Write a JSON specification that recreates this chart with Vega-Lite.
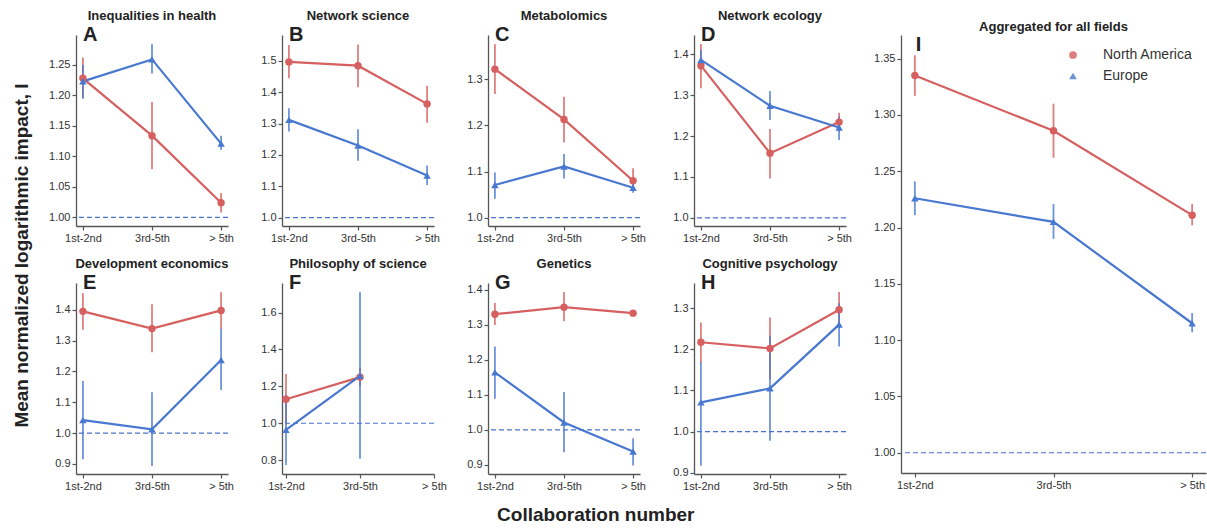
{
"$schema":"https://vega.github.io/schema/vega-lite/v6.json",
"padding":{"left":12,"top":10,"right":0,"bottom":0},
"datasets":{"d":[
{"panel":"A","region":"North America","collab":"1st-2nd","mean":1.228,"lo":1.195,"hi":1.262},
{"panel":"A","region":"North America","collab":"3rd-5th","mean":1.134,"lo":1.079,"hi":1.189},
{"panel":"A","region":"North America","collab":"> 5th","mean":1.024,"lo":1.008,"hi":1.040},
{"panel":"A","region":"Europe","collab":"1st-2nd","mean":1.223,"lo":1.195,"hi":1.250},
{"panel":"A","region":"Europe","collab":"3rd-5th","mean":1.259,"lo":1.236,"hi":1.284},
{"panel":"A","region":"Europe","collab":"> 5th","mean":1.121,"lo":1.111,"hi":1.134},
{"panel":"B","region":"North America","collab":"1st-2nd","mean":1.497,"lo":1.445,"hi":1.551},
{"panel":"B","region":"North America","collab":"3rd-5th","mean":1.485,"lo":1.416,"hi":1.553},
{"panel":"B","region":"North America","collab":"> 5th","mean":1.363,"lo":1.303,"hi":1.421},
{"panel":"B","region":"Europe","collab":"1st-2nd","mean":1.312,"lo":1.275,"hi":1.349},
{"panel":"B","region":"Europe","collab":"3rd-5th","mean":1.230,"lo":1.181,"hi":1.282},
{"panel":"B","region":"Europe","collab":"> 5th","mean":1.134,"lo":1.104,"hi":1.166},
{"panel":"C","region":"North America","collab":"1st-2nd","mean":1.322,"lo":1.268,"hi":1.376},
{"panel":"C","region":"North America","collab":"3rd-5th","mean":1.213,"lo":1.163,"hi":1.262},
{"panel":"C","region":"North America","collab":"> 5th","mean":1.080,"lo":1.060,"hi":1.107},
{"panel":"C","region":"Europe","collab":"1st-2nd","mean":1.071,"lo":1.041,"hi":1.098},
{"panel":"C","region":"Europe","collab":"3rd-5th","mean":1.111,"lo":1.085,"hi":1.138},
{"panel":"C","region":"Europe","collab":"> 5th","mean":1.065,"lo":1.054,"hi":1.075},
{"panel":"D","region":"North America","collab":"1st-2nd","mean":1.372,"lo":1.317,"hi":1.425},
{"panel":"D","region":"North America","collab":"3rd-5th","mean":1.158,"lo":1.096,"hi":1.217},
{"panel":"D","region":"North America","collab":"> 5th","mean":1.234,"lo":1.211,"hi":1.257},
{"panel":"D","region":"Europe","collab":"1st-2nd","mean":1.386,"lo":1.362,"hi":1.411},
{"panel":"D","region":"Europe","collab":"3rd-5th","mean":1.274,"lo":1.239,"hi":1.310},
{"panel":"D","region":"Europe","collab":"> 5th","mean":1.221,"lo":1.190,"hi":1.247},
{"panel":"E","region":"North America","collab":"1st-2nd","mean":1.395,"lo":1.335,"hi":1.454},
{"panel":"E","region":"North America","collab":"3rd-5th","mean":1.339,"lo":1.262,"hi":1.418},
{"panel":"E","region":"North America","collab":"> 5th","mean":1.398,"lo":1.338,"hi":1.457},
{"panel":"E","region":"Europe","collab":"1st-2nd","mean":1.042,"lo":0.915,"hi":1.169},
{"panel":"E","region":"Europe","collab":"3rd-5th","mean":1.012,"lo":0.893,"hi":1.132},
{"panel":"E","region":"Europe","collab":"> 5th","mean":1.237,"lo":1.140,"hi":1.338},
{"panel":"F","region":"North America","collab":"1st-2nd","mean":1.130,"lo":0.993,"hi":1.267},
{"panel":"F","region":"North America","collab":"3rd-5th","mean":1.250,"lo":1.200,"hi":1.300},
{"panel":"F","region":"Europe","collab":"1st-2nd","mean":0.964,"lo":0.774,"hi":1.154},
{"panel":"F","region":"Europe","collab":"3rd-5th","mean":1.257,"lo":0.807,"hi":1.710},
{"panel":"G","region":"North America","collab":"1st-2nd","mean":1.330,"lo":1.299,"hi":1.362},
{"panel":"G","region":"North America","collab":"3rd-5th","mean":1.350,"lo":1.310,"hi":1.393},
{"panel":"G","region":"North America","collab":"> 5th","mean":1.333,"lo":1.327,"hi":1.340},
{"panel":"G","region":"Europe","collab":"1st-2nd","mean":1.164,"lo":1.089,"hi":1.238},
{"panel":"G","region":"Europe","collab":"3rd-5th","mean":1.021,"lo":0.936,"hi":1.108},
{"panel":"G","region":"Europe","collab":"> 5th","mean":0.938,"lo":0.898,"hi":0.976},
{"panel":"H","region":"North America","collab":"1st-2nd","mean":1.217,"lo":1.168,"hi":1.265},
{"panel":"H","region":"North America","collab":"3rd-5th","mean":1.202,"lo":1.127,"hi":1.277},
{"panel":"H","region":"North America","collab":"> 5th","mean":1.296,"lo":1.251,"hi":1.339},
{"panel":"H","region":"Europe","collab":"1st-2nd","mean":1.071,"lo":0.917,"hi":1.169},
{"panel":"H","region":"Europe","collab":"3rd-5th","mean":1.105,"lo":0.978,"hi":1.233},
{"panel":"H","region":"Europe","collab":"> 5th","mean":1.260,"lo":1.207,"hi":1.312},
{"panel":"I","region":"North America","collab":"1st-2nd","mean":1.335,"lo":1.317,"hi":1.353},
{"panel":"I","region":"North America","collab":"3rd-5th","mean":1.286,"lo":1.262,"hi":1.310},
{"panel":"I","region":"North America","collab":"> 5th","mean":1.211,"lo":1.202,"hi":1.221},
{"panel":"I","region":"Europe","collab":"1st-2nd","mean":1.226,"lo":1.211,"hi":1.241},
{"panel":"I","region":"Europe","collab":"3rd-5th","mean":1.205,"lo":1.190,"hi":1.221},
{"panel":"I","region":"Europe","collab":"> 5th","mean":1.115,"lo":1.107,"hi":1.124}
]},
"data":{"name":"d"},
"title":{"text":"Collaboration number","orient":"bottom","anchor":"middle","fontSize":19,"fontWeight":"bold","offset":15,"dx":-14,"color":"#222"},
"spacing":17,
"resolve":{"scale":{"color":"independent","shape":"independent"}},
"hconcat":[
{"vconcat":[
{"hconcat":[
{"width":152,"height":191,"title":{"text":"Inequalities in health"},
"layer":[
{"transform":[{"filter":"datum.panel==='A' && datum.region==='Europe' && datum.collab==='1st-2nd'"}],"mark":{"type":"rule","strokeDash":[5,3],"color":"#4a72c8","strokeWidth":1.2},"encoding":{"y":{"datum":1,"type":"quantitative","axis":{"title":null,"values":[1.0,1.05,1.1,1.15,1.2,1.25],"format":".2f"}}}},
{"transform":[{"filter":"datum.panel==='A'"}],"mark":{"type":"rule","strokeWidth":1.8,"opacity":0.8},"encoding":{"x":{"field":"collab","type":"ordinal","scale":{"type":"point","domain":["1st-2nd","3rd-5th","> 5th"],"padding":0.1},"axis":{"title":null,"labelAngle":0}},"y":{"field":"lo","type":"quantitative","scale":{"domain":[0.986,1.299],"nice":false,"zero":false},"axis":{"title":null,"values":[1.0,1.05,1.1,1.15,1.2,1.25],"format":".2f"}},"y2":{"field":"hi"},"color":{"field":"region","type":"nominal","scale":{"domain":["North America","Europe"],"range":["#d65f5f","#4878d0"]},"legend":null}}},
{"transform":[{"filter":"datum.panel==='A'"}],"mark":{"type":"line","strokeWidth":2.2},"encoding":{"x":{"field":"collab","type":"ordinal"},"y":{"field":"mean","type":"quantitative","axis":{"title":null,"values":[1.0,1.05,1.1,1.15,1.2,1.25],"format":".2f"}},"color":{"field":"region","type":"nominal","legend":null}}},
{"transform":[{"filter":"datum.panel==='A'"}],"mark":{"type":"point","filled":true,"opacity":1,"size":55},"encoding":{"x":{"field":"collab","type":"ordinal"},"y":{"field":"mean","type":"quantitative","axis":{"title":null,"values":[1.0,1.05,1.1,1.15,1.2,1.25],"format":".2f"}},"color":{"field":"region","type":"nominal","legend":null},"shape":{"field":"region","type":"nominal","scale":{"domain":["North America","Europe"],"range":["circle","triangle-up"]},"legend":null}}},
{"transform":[{"filter":"datum.panel==='A' && datum.region==='Europe' && datum.collab==='1st-2nd'"}],"mark":{"type":"text","text":"A","align":"left","baseline":"middle","fontSize":20,"fontWeight":"bold","color":"#222"},"encoding":{"x":{"datum":"1st-2nd","type":"ordinal"},"y":{"datum":1.299,"type":"quantitative","axis":{"title":null,"values":[1.0,1.05,1.1,1.15,1.2,1.25],"format":".2f"}}}}
]},
{"width":152,"height":191,"title":{"text":"Network science"},
"layer":[
{"transform":[{"filter":"datum.panel==='B' && datum.region==='Europe' && datum.collab==='1st-2nd'"}],"mark":{"type":"rule","strokeDash":[5,3],"color":"#4a72c8","strokeWidth":1.2},"encoding":{"y":{"datum":1,"type":"quantitative","axis":{"title":null,"values":[1.0,1.1,1.2,1.3,1.4,1.5],"format":".1f"}}}},
{"transform":[{"filter":"datum.panel==='B'"}],"mark":{"type":"rule","strokeWidth":1.8,"opacity":0.8},"encoding":{"x":{"field":"collab","type":"ordinal","scale":{"type":"point","domain":["1st-2nd","3rd-5th","> 5th"],"padding":0.1},"axis":{"title":null,"labelAngle":0}},"y":{"field":"lo","type":"quantitative","scale":{"domain":[0.973,1.583],"nice":false,"zero":false},"axis":{"title":null,"values":[1.0,1.1,1.2,1.3,1.4,1.5],"format":".1f"}},"y2":{"field":"hi"},"color":{"field":"region","type":"nominal","scale":{"domain":["North America","Europe"],"range":["#d65f5f","#4878d0"]},"legend":null}}},
{"transform":[{"filter":"datum.panel==='B'"}],"mark":{"type":"line","strokeWidth":2.2},"encoding":{"x":{"field":"collab","type":"ordinal"},"y":{"field":"mean","type":"quantitative","axis":{"title":null,"values":[1.0,1.1,1.2,1.3,1.4,1.5],"format":".1f"}},"color":{"field":"region","type":"nominal","legend":null}}},
{"transform":[{"filter":"datum.panel==='B'"}],"mark":{"type":"point","filled":true,"opacity":1,"size":55},"encoding":{"x":{"field":"collab","type":"ordinal"},"y":{"field":"mean","type":"quantitative","axis":{"title":null,"values":[1.0,1.1,1.2,1.3,1.4,1.5],"format":".1f"}},"color":{"field":"region","type":"nominal","legend":null},"shape":{"field":"region","type":"nominal","scale":{"domain":["North America","Europe"],"range":["circle","triangle-up"]},"legend":null}}},
{"transform":[{"filter":"datum.panel==='B' && datum.region==='Europe' && datum.collab==='1st-2nd'"}],"mark":{"type":"text","text":"B","align":"left","baseline":"middle","fontSize":20,"fontWeight":"bold","color":"#222"},"encoding":{"x":{"datum":"1st-2nd","type":"ordinal"},"y":{"datum":1.583,"type":"quantitative","axis":{"title":null,"values":[1.0,1.1,1.2,1.3,1.4,1.5],"format":".1f"}}}}
]},
{"width":152,"height":191,"title":{"text":"Metabolomics"},
"layer":[
{"transform":[{"filter":"datum.panel==='C' && datum.region==='Europe' && datum.collab==='1st-2nd'"}],"mark":{"type":"rule","strokeDash":[5,3],"color":"#4a72c8","strokeWidth":1.2},"encoding":{"y":{"datum":1,"type":"quantitative","axis":{"title":null,"values":[1.0,1.1,1.2,1.3],"format":".1f"}}}},
{"transform":[{"filter":"datum.panel==='C'"}],"mark":{"type":"rule","strokeWidth":1.8,"opacity":0.8},"encoding":{"x":{"field":"collab","type":"ordinal","scale":{"type":"point","domain":["1st-2nd","3rd-5th","> 5th"],"padding":0.1},"axis":{"title":null,"labelAngle":0}},"y":{"field":"lo","type":"quantitative","scale":{"domain":[0.982,1.396],"nice":false,"zero":false},"axis":{"title":null,"values":[1.0,1.1,1.2,1.3],"format":".1f"}},"y2":{"field":"hi"},"color":{"field":"region","type":"nominal","scale":{"domain":["North America","Europe"],"range":["#d65f5f","#4878d0"]},"legend":null}}},
{"transform":[{"filter":"datum.panel==='C'"}],"mark":{"type":"line","strokeWidth":2.2},"encoding":{"x":{"field":"collab","type":"ordinal"},"y":{"field":"mean","type":"quantitative","axis":{"title":null,"values":[1.0,1.1,1.2,1.3],"format":".1f"}},"color":{"field":"region","type":"nominal","legend":null}}},
{"transform":[{"filter":"datum.panel==='C'"}],"mark":{"type":"point","filled":true,"opacity":1,"size":55},"encoding":{"x":{"field":"collab","type":"ordinal"},"y":{"field":"mean","type":"quantitative","axis":{"title":null,"values":[1.0,1.1,1.2,1.3],"format":".1f"}},"color":{"field":"region","type":"nominal","legend":null},"shape":{"field":"region","type":"nominal","scale":{"domain":["North America","Europe"],"range":["circle","triangle-up"]},"legend":null}}},
{"transform":[{"filter":"datum.panel==='C' && datum.region==='Europe' && datum.collab==='1st-2nd'"}],"mark":{"type":"text","text":"C","align":"left","baseline":"middle","fontSize":20,"fontWeight":"bold","color":"#222"},"encoding":{"x":{"datum":"1st-2nd","type":"ordinal"},"y":{"datum":1.396,"type":"quantitative","axis":{"title":null,"values":[1.0,1.1,1.2,1.3],"format":".1f"}}}}
]},
{"width":152,"height":191,"title":{"text":"Network ecology"},
"layer":[
{"transform":[{"filter":"datum.panel==='D' && datum.region==='Europe' && datum.collab==='1st-2nd'"}],"mark":{"type":"rule","strokeDash":[5,3],"color":"#4a72c8","strokeWidth":1.2},"encoding":{"y":{"datum":1,"type":"quantitative","axis":{"title":null,"values":[1.0,1.1,1.2,1.3,1.4],"format":".1f"}}}},
{"transform":[{"filter":"datum.panel==='D'"}],"mark":{"type":"rule","strokeWidth":1.8,"opacity":0.8},"encoding":{"x":{"field":"collab","type":"ordinal","scale":{"type":"point","domain":["1st-2nd","3rd-5th","> 5th"],"padding":0.1},"axis":{"title":null,"labelAngle":0}},"y":{"field":"lo","type":"quantitative","scale":{"domain":[0.980,1.447],"nice":false,"zero":false},"axis":{"title":null,"values":[1.0,1.1,1.2,1.3,1.4],"format":".1f"}},"y2":{"field":"hi"},"color":{"field":"region","type":"nominal","scale":{"domain":["North America","Europe"],"range":["#d65f5f","#4878d0"]},"legend":null}}},
{"transform":[{"filter":"datum.panel==='D'"}],"mark":{"type":"line","strokeWidth":2.2},"encoding":{"x":{"field":"collab","type":"ordinal"},"y":{"field":"mean","type":"quantitative","axis":{"title":null,"values":[1.0,1.1,1.2,1.3,1.4],"format":".1f"}},"color":{"field":"region","type":"nominal","legend":null}}},
{"transform":[{"filter":"datum.panel==='D'"}],"mark":{"type":"point","filled":true,"opacity":1,"size":55},"encoding":{"x":{"field":"collab","type":"ordinal"},"y":{"field":"mean","type":"quantitative","axis":{"title":null,"values":[1.0,1.1,1.2,1.3,1.4],"format":".1f"}},"color":{"field":"region","type":"nominal","legend":null},"shape":{"field":"region","type":"nominal","scale":{"domain":["North America","Europe"],"range":["circle","triangle-up"]},"legend":null}}},
{"transform":[{"filter":"datum.panel==='D' && datum.region==='Europe' && datum.collab==='1st-2nd'"}],"mark":{"type":"text","text":"D","align":"left","baseline":"middle","fontSize":20,"fontWeight":"bold","color":"#222"},"encoding":{"x":{"datum":"1st-2nd","type":"ordinal"},"y":{"datum":1.447,"type":"quantitative","axis":{"title":null,"values":[1.0,1.1,1.2,1.3,1.4],"format":".1f"}}}}
]}
],"spacing":54,"bounds":"flush"},
{"hconcat":[
{"width":152,"height":191,"title":{"text":"Development economics"},
"layer":[
{"transform":[{"filter":"datum.panel==='E' && datum.region==='Europe' && datum.collab==='1st-2nd'"}],"mark":{"type":"rule","strokeDash":[5,3],"color":"#4a72c8","strokeWidth":1.2},"encoding":{"y":{"datum":1,"type":"quantitative","axis":{"title":null,"values":[0.9,1.0,1.1,1.2,1.3,1.4],"format":".1f"}}}},
{"transform":[{"filter":"datum.panel==='E'"}],"mark":{"type":"rule","strokeWidth":1.8,"opacity":0.8},"encoding":{"x":{"field":"collab","type":"ordinal","scale":{"type":"point","domain":["1st-2nd","3rd-5th","> 5th"],"padding":0.1},"axis":{"title":null,"labelAngle":0}},"y":{"field":"lo","type":"quantitative","scale":{"domain":[0.867,1.487],"nice":false,"zero":false},"axis":{"title":null,"values":[0.9,1.0,1.1,1.2,1.3,1.4],"format":".1f"}},"y2":{"field":"hi"},"color":{"field":"region","type":"nominal","scale":{"domain":["North America","Europe"],"range":["#d65f5f","#4878d0"]},"legend":null}}},
{"transform":[{"filter":"datum.panel==='E'"}],"mark":{"type":"line","strokeWidth":2.2},"encoding":{"x":{"field":"collab","type":"ordinal"},"y":{"field":"mean","type":"quantitative","axis":{"title":null,"values":[0.9,1.0,1.1,1.2,1.3,1.4],"format":".1f"}},"color":{"field":"region","type":"nominal","legend":null}}},
{"transform":[{"filter":"datum.panel==='E'"}],"mark":{"type":"point","filled":true,"opacity":1,"size":55},"encoding":{"x":{"field":"collab","type":"ordinal"},"y":{"field":"mean","type":"quantitative","axis":{"title":null,"values":[0.9,1.0,1.1,1.2,1.3,1.4],"format":".1f"}},"color":{"field":"region","type":"nominal","legend":null},"shape":{"field":"region","type":"nominal","scale":{"domain":["North America","Europe"],"range":["circle","triangle-up"]},"legend":null}}},
{"transform":[{"filter":"datum.panel==='E' && datum.region==='Europe' && datum.collab==='1st-2nd'"}],"mark":{"type":"text","text":"E","align":"left","baseline":"middle","fontSize":20,"fontWeight":"bold","color":"#222"},"encoding":{"x":{"datum":"1st-2nd","type":"ordinal"},"y":{"datum":1.487,"type":"quantitative","axis":{"title":null,"values":[0.9,1.0,1.1,1.2,1.3,1.4],"format":".1f"}}}}
]},
{"width":152,"height":191,"title":{"text":"Philosophy of science"},
"layer":[
{"transform":[{"filter":"datum.panel==='F' && datum.region==='Europe' && datum.collab==='1st-2nd'"}],"mark":{"type":"rule","strokeDash":[5,3],"color":"#4a72c8","strokeWidth":1.2},"encoding":{"y":{"datum":1,"type":"quantitative","axis":{"title":null,"values":[0.8,1.0,1.2,1.4,1.6],"format":".1f"}}}},
{"transform":[{"filter":"datum.panel==='F'"}],"mark":{"type":"rule","strokeWidth":1.8,"opacity":0.8},"encoding":{"x":{"field":"collab","type":"ordinal","scale":{"type":"point","domain":["1st-2nd","3rd-5th","> 5th"],"padding":0.027,"align":1},"axis":{"title":null,"labelAngle":0}},"y":{"field":"lo","type":"quantitative","scale":{"domain":[0.725,1.76],"nice":false,"zero":false},"axis":{"title":null,"values":[0.8,1.0,1.2,1.4,1.6],"format":".1f"}},"y2":{"field":"hi"},"color":{"field":"region","type":"nominal","scale":{"domain":["North America","Europe"],"range":["#d65f5f","#4878d0"]},"legend":null}}},
{"transform":[{"filter":"datum.panel==='F'"}],"mark":{"type":"line","strokeWidth":2.2},"encoding":{"x":{"field":"collab","type":"ordinal"},"y":{"field":"mean","type":"quantitative","axis":{"title":null,"values":[0.8,1.0,1.2,1.4,1.6],"format":".1f"}},"color":{"field":"region","type":"nominal","legend":null}}},
{"transform":[{"filter":"datum.panel==='F'"}],"mark":{"type":"point","filled":true,"opacity":1,"size":55},"encoding":{"x":{"field":"collab","type":"ordinal"},"y":{"field":"mean","type":"quantitative","axis":{"title":null,"values":[0.8,1.0,1.2,1.4,1.6],"format":".1f"}},"color":{"field":"region","type":"nominal","legend":null},"shape":{"field":"region","type":"nominal","scale":{"domain":["North America","Europe"],"range":["circle","triangle-up"]},"legend":null}}},
{"transform":[{"filter":"datum.panel==='F' && datum.region==='Europe' && datum.collab==='1st-2nd'"}],"mark":{"type":"text","text":"F","align":"left","baseline":"middle","fontSize":20,"fontWeight":"bold","color":"#222","dx":3},"encoding":{"x":{"datum":"1st-2nd","type":"ordinal"},"y":{"datum":1.76,"type":"quantitative","axis":{"title":null,"values":[0.8,1.0,1.2,1.4,1.6],"format":".1f"}}}}
]},
{"width":152,"height":191,"title":{"text":"Genetics"},
"layer":[
{"transform":[{"filter":"datum.panel==='G' && datum.region==='Europe' && datum.collab==='1st-2nd'"}],"mark":{"type":"rule","strokeDash":[5,3],"color":"#4a72c8","strokeWidth":1.2},"encoding":{"y":{"datum":1,"type":"quantitative","axis":{"title":null,"values":[0.9,1.0,1.1,1.2,1.3,1.4],"format":".1f"}}}},
{"transform":[{"filter":"datum.panel==='G'"}],"mark":{"type":"rule","strokeWidth":1.8,"opacity":0.8},"encoding":{"x":{"field":"collab","type":"ordinal","scale":{"type":"point","domain":["1st-2nd","3rd-5th","> 5th"],"padding":0.1},"axis":{"title":null,"labelAngle":0}},"y":{"field":"lo","type":"quantitative","scale":{"domain":[0.874,1.419],"nice":false,"zero":false},"axis":{"title":null,"values":[0.9,1.0,1.1,1.2,1.3,1.4],"format":".1f"}},"y2":{"field":"hi"},"color":{"field":"region","type":"nominal","scale":{"domain":["North America","Europe"],"range":["#d65f5f","#4878d0"]},"legend":null}}},
{"transform":[{"filter":"datum.panel==='G'"}],"mark":{"type":"line","strokeWidth":2.2},"encoding":{"x":{"field":"collab","type":"ordinal"},"y":{"field":"mean","type":"quantitative","axis":{"title":null,"values":[0.9,1.0,1.1,1.2,1.3,1.4],"format":".1f"}},"color":{"field":"region","type":"nominal","legend":null}}},
{"transform":[{"filter":"datum.panel==='G'"}],"mark":{"type":"point","filled":true,"opacity":1,"size":55},"encoding":{"x":{"field":"collab","type":"ordinal"},"y":{"field":"mean","type":"quantitative","axis":{"title":null,"values":[0.9,1.0,1.1,1.2,1.3,1.4],"format":".1f"}},"color":{"field":"region","type":"nominal","legend":null},"shape":{"field":"region","type":"nominal","scale":{"domain":["North America","Europe"],"range":["circle","triangle-up"]},"legend":null}}},
{"transform":[{"filter":"datum.panel==='G' && datum.region==='Europe' && datum.collab==='1st-2nd'"}],"mark":{"type":"text","text":"G","align":"left","baseline":"middle","fontSize":20,"fontWeight":"bold","color":"#222"},"encoding":{"x":{"datum":"1st-2nd","type":"ordinal"},"y":{"datum":1.419,"type":"quantitative","axis":{"title":null,"values":[0.9,1.0,1.1,1.2,1.3,1.4],"format":".1f"}}}}
]},
{"width":152,"height":191,"title":{"text":"Cognitive psychology"},
"layer":[
{"transform":[{"filter":"datum.panel==='H' && datum.region==='Europe' && datum.collab==='1st-2nd'"}],"mark":{"type":"rule","strokeDash":[5,3],"color":"#4a72c8","strokeWidth":1.2},"encoding":{"y":{"datum":1,"type":"quantitative","axis":{"title":null,"values":[0.9,1.0,1.1,1.2,1.3],"format":".1f"}}}},
{"transform":[{"filter":"datum.panel==='H'"}],"mark":{"type":"rule","strokeWidth":1.8,"opacity":0.8},"encoding":{"x":{"field":"collab","type":"ordinal","scale":{"type":"point","domain":["1st-2nd","3rd-5th","> 5th"],"padding":0.1},"axis":{"title":null,"labelAngle":0}},"y":{"field":"lo","type":"quantitative","scale":{"domain":[0.897,1.361],"nice":false,"zero":false},"axis":{"title":null,"values":[0.9,1.0,1.1,1.2,1.3],"format":".1f"}},"y2":{"field":"hi"},"color":{"field":"region","type":"nominal","scale":{"domain":["North America","Europe"],"range":["#d65f5f","#4878d0"]},"legend":null}}},
{"transform":[{"filter":"datum.panel==='H'"}],"mark":{"type":"line","strokeWidth":2.2},"encoding":{"x":{"field":"collab","type":"ordinal"},"y":{"field":"mean","type":"quantitative","axis":{"title":null,"values":[0.9,1.0,1.1,1.2,1.3],"format":".1f"}},"color":{"field":"region","type":"nominal","legend":null}}},
{"transform":[{"filter":"datum.panel==='H'"}],"mark":{"type":"point","filled":true,"opacity":1,"size":55},"encoding":{"x":{"field":"collab","type":"ordinal"},"y":{"field":"mean","type":"quantitative","axis":{"title":null,"values":[0.9,1.0,1.1,1.2,1.3],"format":".1f"}},"color":{"field":"region","type":"nominal","legend":null},"shape":{"field":"region","type":"nominal","scale":{"domain":["North America","Europe"],"range":["circle","triangle-up"]},"legend":null}}},
{"transform":[{"filter":"datum.panel==='H' && datum.region==='Europe' && datum.collab==='1st-2nd'"}],"mark":{"type":"text","text":"H","align":"left","baseline":"middle","fontSize":20,"fontWeight":"bold","color":"#222"},"encoding":{"x":{"datum":"1st-2nd","type":"ordinal"},"y":{"datum":1.361,"type":"quantitative","axis":{"title":null,"values":[0.9,1.0,1.1,1.2,1.3],"format":".1f"}}}}
]}
],"spacing":54,"bounds":"flush"}
],"spacing":15,
"title":{"text":"Mean normalized logarithmic impact, I","orient":"left","anchor":"middle","fontSize":19,"fontWeight":"bold","offset":12,"dx":-5,"color":"#222"}},
{"width":305,"height":438,"title":{"text":"Aggregated for all fields","offset":1},
"layer":[
{"transform":[{"filter":"datum.panel==='I' && datum.region==='Europe' && datum.collab==='1st-2nd'"}],"mark":{"type":"rule","strokeDash":[5,3],"color":"#4a72c8","strokeWidth":1.2},"encoding":{"y":{"datum":1,"type":"quantitative","axis":{"title":null,"values":[1.0,1.05,1.1,1.15,1.2,1.25,1.3,1.35],"format":".2f"}}}},
{"transform":[{"filter":"datum.panel==='I'"}],"mark":{"type":"rule","strokeWidth":1.8,"opacity":0.8},"encoding":{"x":{"field":"collab","type":"ordinal","scale":{"type":"point","domain":["1st-2nd","3rd-5th","> 5th"],"padding":0.1},"axis":{"title":null,"labelAngle":0}},"y":{"field":"lo","type":"quantitative","scale":{"domain":[0.982,1.371],"nice":false,"zero":false},"axis":{"title":null,"values":[1.0,1.05,1.1,1.15,1.2,1.25,1.3,1.35],"format":".2f"}},"y2":{"field":"hi"},"color":{"field":"region","type":"nominal","scale":{"domain":["North America","Europe"],"range":["#d65f5f","#4878d0"]},"legend":{"title":null,"orient":"top-right","offset":13,"labelFontSize":14,"labelColor":"#333","labelOffset":23,"rowPadding":7,"symbolSize":60,"symbolStrokeWidth":0}}}},
{"transform":[{"filter":"datum.panel==='I'"}],"mark":{"type":"line","strokeWidth":2.2},"encoding":{"x":{"field":"collab","type":"ordinal"},"y":{"field":"mean","type":"quantitative","axis":{"title":null,"values":[1.0,1.05,1.1,1.15,1.2,1.25,1.3,1.35],"format":".2f"}},"color":{"field":"region","type":"nominal","legend":{"title":null,"orient":"top-right","offset":13,"labelFontSize":14,"labelColor":"#333","labelOffset":23,"rowPadding":7,"symbolSize":60,"symbolStrokeWidth":0}}}},
{"transform":[{"filter":"datum.panel==='I'"}],"mark":{"type":"point","filled":true,"opacity":1,"size":55},"encoding":{"x":{"field":"collab","type":"ordinal"},"y":{"field":"mean","type":"quantitative","axis":{"title":null,"values":[1.0,1.05,1.1,1.15,1.2,1.25,1.3,1.35],"format":".2f"}},"color":{"field":"region","type":"nominal","legend":{"title":null,"orient":"top-right","offset":13,"labelFontSize":14,"labelColor":"#333","labelOffset":23,"rowPadding":7,"symbolSize":60,"symbolStrokeWidth":0}},"shape":{"field":"region","type":"nominal","scale":{"domain":["North America","Europe"],"range":["circle","triangle-up"]},"legend":{"title":null,"orient":"top-right","offset":13,"labelFontSize":14,"labelColor":"#333","labelOffset":23,"rowPadding":7,"symbolSize":60,"symbolStrokeWidth":0}}}},
{"transform":[{"filter":"datum.panel==='I' && datum.region==='Europe' && datum.collab==='1st-2nd'"}],"mark":{"type":"text","text":"I","align":"left","baseline":"top","fontSize":20,"fontWeight":"bold","color":"#222","dx":1},"encoding":{"x":{"datum":"1st-2nd","type":"ordinal"},"y":{"datum":1.371,"type":"quantitative","axis":{"title":null,"values":[1.0,1.05,1.1,1.15,1.2,1.25,1.3,1.35],"format":".2f"}}}}
]}
],
"config":{
"font":"Liberation Sans",
"view":{"stroke":null},
"axis":{"grid":false,"labelOverlap":false,"domainColor":"#555","domainWidth":1.3,"tickColor":"#555","tickWidth":1.2,"tickSize":4,"labelColor":"#333","labelFontSize":11,"labelFont":"Liberation Sans"},
"axisY":{"minExtent":32,"maxExtent":32},
"title":{"fontSize":13,"fontWeight":"bold","color":"#222","offset":2,"font":"Liberation Sans"},
"legend":{"labelFont":"Liberation Sans"}
}
}
